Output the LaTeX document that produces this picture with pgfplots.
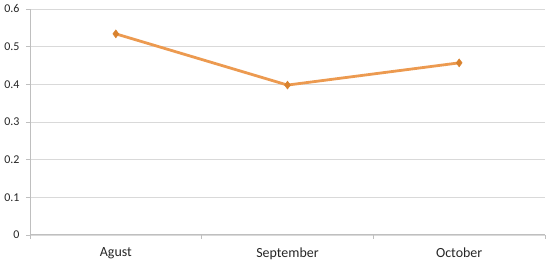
\documentclass[border=0pt]{standalone}
\usepackage{fontspec}
\setmainfont{Carlito}
\usepackage{pgfplots}
\pgfplotsset{compat=1.18}
\definecolor{lineor}{HTML}{EC9A50}
\definecolor{markor}{HTML}{D9822E}
\definecolor{gridg}{HTML}{D9D9D9}
\definecolor{axg}{HTML}{BFBFBF}
\begin{document}
\begin{tikzpicture}
\begin{axis}[
  scale only axis,
  width=515bp, height=226bp,
  xmin=-0.5, xmax=2.5,
  ymin=0, ymax=0.6,
  xtick={0,1,2},
  xticklabels={Agust,September,October},
  minor xtick={-0.5,0.5,1.5,2.5},
  ytick={0,0.1,0.2,0.3,0.4,0.5,0.6},
  yticklabel style={/pgf/number format/fixed, /pgf/number format/precision=1},
  /pgf/number format/assume math mode=true,
  ymajorgrids,
  major grid style={gridg, line width=0.8pt},
  axis x line*=bottom,
  axis y line*=left,
  axis line style={axg, line width=1pt, -},
  major x tick style={draw=none},
  minor x tick style={axg, line width=0.8pt},
  major y tick style={axg, line width=0.8pt},
  tick align=outside,
  major tick length=4bp,
  minor tick length=4bp,
  tick label style={text=black!85},
  xticklabel style={font=\fontsize{14}{16}\selectfont, yshift=-5bp},
  yticklabel style={font=\fontsize{12}{14}\selectfont, xshift=-3bp},
]
\addplot[lineor, line width=2.8pt, mark=diamond*, mark size=4pt,
  mark options={fill=markor, draw=markor, line width=0.5pt}]
  coordinates {(0,0.534) (1,0.398) (2,0.457)};
\end{axis}
\useasboundingbox ([xshift=-30bp,yshift=-29bp]current axis.south west) rectangle ([xshift=5bp,yshift=9bp]current axis.north east);
\end{tikzpicture}
\end{document}
